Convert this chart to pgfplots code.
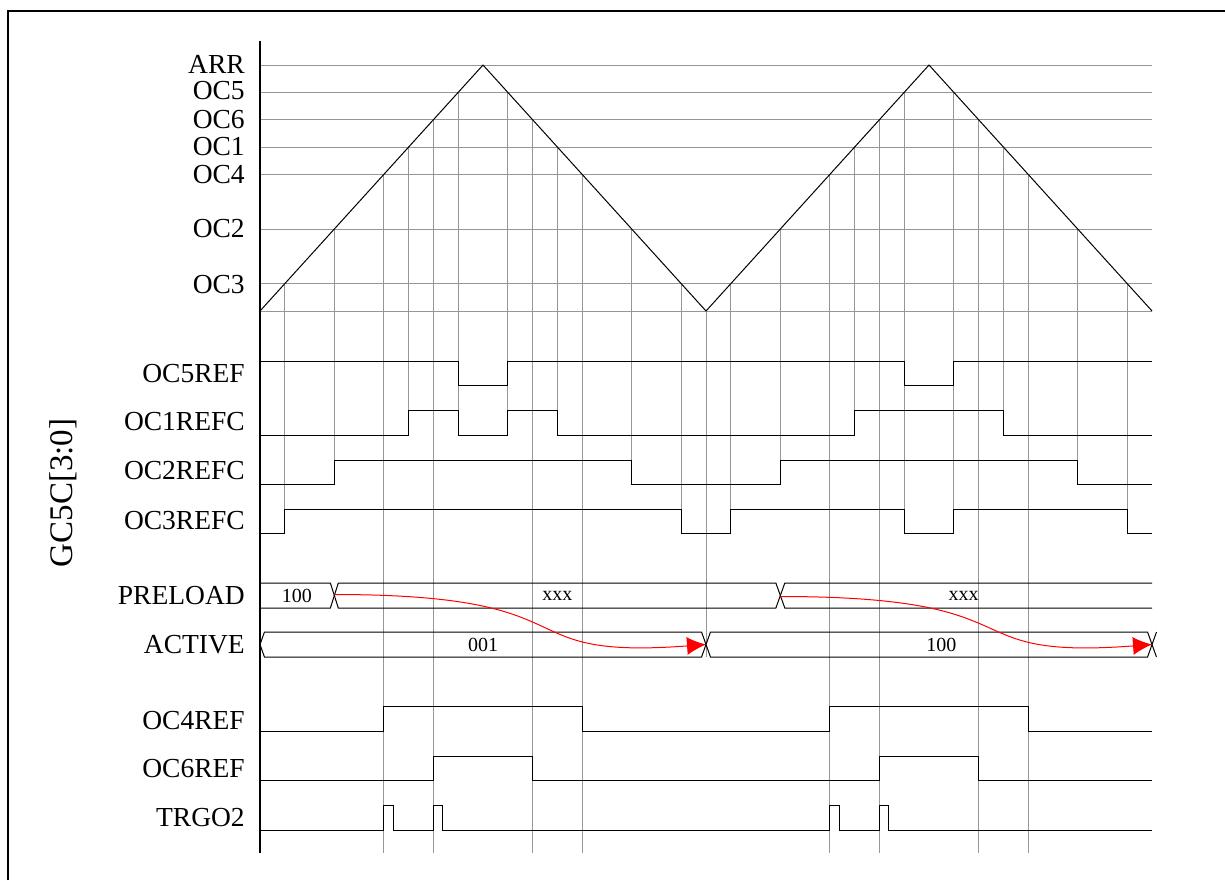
\documentclass[border=0pt]{standalone}
\usepackage{fontspec}
\setmainfont{Liberation Serif}
\usepackage{pgfplots}
\usepackage{pgfplotstable}
\pgfplotsset{compat=1.18}
\usetikzlibrary{arrows.meta}
\definecolor{gridc}{RGB}{150,150,150}
\tikzset{
  lab/.style={anchor=east, inner sep=0pt, font=\fontsize{13.75pt}{16pt}\selectfont},
  buslab/.style={inner sep=0pt, font=\fontsize{10pt}{12pt}\selectfont},
  sig/.style={black, line width=0.5pt, mark=none},
}
% vertical guide lines: time, top (counter crossing), bottom
\pgfplotstableread{
t y
1 283.7
1 533
nan nan
3 229
3 484
nan nan
5 174.3
5 853
nan nan
6 147
6 435
nan nan
7 119.7
7 853
nan nan
8 92.3
8 435
nan nan
10 92.3
10 435
nan nan
11 119.7
11 853
nan nan
12 147
12 435
nan nan
13 174.3
13 853
nan nan
15 229
15 484
nan nan
17 283.7
17 533
nan nan
18 311
18 657
nan nan
19 283.7
19 533
nan nan
21 229
21 484
nan nan
23 174.3
23 853
nan nan
24 147
24 435
nan nan
25 119.7
25 853
nan nan
26 92.3
26 533
nan nan
28 92.3
28 533
nan nan
29 119.7
29 853
nan nan
30 147
30 435
nan nan
31 174.3
31 853
nan nan
33 229
33 484
nan nan
35 283.7
35 533
}\vgrid
\pgfplotstableread{
t y
0 65
36 65
nan nan
0 92.3
36 92.3
nan nan
0 119.7
36 119.7
nan nan
0 147
36 147
nan nan
0 174.3
36 174.3
nan nan
0 229
36 229
nan nan
0 283.7
36 283.7
nan nan
0 311
36 311
}\hgrid
\begin{document}
\begin{tikzpicture}
\begin{axis}[
  width=612.5pt, height=440pt, scale only axis,
  xmin=-10.493, xmax=38.946, ymin=0, ymax=880, y dir=reverse,
  axis lines=none, clip=false,
  unbounded coords=jump,
]
% grid
\addplot[gridc, line width=0.5pt, mark=none] table[x=t,y=y] {\hgrid};
\addplot[gridc, line width=0.5pt, mark=none] table[x=t,y=y] {\vgrid};
% left axis line
\addplot[black, line width=0.6pt, mark=none] coordinates {(0,40.7)(0,853)};
% counter
\addplot[sig] coordinates {(0,311)(9,65)(18,311)(27,65)(36,311)};
% OC5REF
\addplot[sig] coordinates {(0,361)(8,361)(8,385)(10,385)(10,361)(26,361)(26,385)(28,385)(28,361)(36,361)};
% OC1REFC
\addplot[sig] coordinates {(0,435)(6,435)(6,410)(8,410)(8,435)(10,435)(10,410)(12,410)(12,435)(24,435)(24,410)(30,410)(30,435)(36,435)};
% OC2REFC
\addplot[sig] coordinates {(0,484)(3,484)(3,460)(15,460)(15,484)(21,484)(21,460)(33,460)(33,484)(36,484)};
% OC3REFC
\addplot[sig] coordinates {(0,533)(1,533)(1,509)(17,509)(17,533)(19,533)(19,509)(26,509)(26,533)(28,533)(28,509)(35,509)(35,533)(36,533)};
% PRELOAD bus
\addplot[sig] coordinates {(0,583)(2.84,583)(3.16,608)(20.82,608)(21.18,583)(36,583)};
\addplot[sig] coordinates {(0,608)(2.84,608)(3.16,583)(20.82,583)(21.18,608)(36,608)};
% ACTIVE bus
\addplot[sig] coordinates {(0,644.5)(0.18,632)(17.82,632)(18.18,657)(35.82,657)(36.18,632)};
\addplot[sig] coordinates {(0,644.5)(0.18,657)(17.82,657)(18.18,632)(35.82,632)(36.18,657)};
% OC4REF
\addplot[sig] coordinates {(0,731)(5,731)(5,706)(13,706)(13,731)(23,731)(23,706)(31,706)(31,731)(36,731)};
% OC6REF
\addplot[sig] coordinates {(0,780)(7,780)(7,756)(11,756)(11,780)(25,780)(25,756)(29,756)(29,780)(36,780)};
% TRGO2
\addplot[sig] coordinates {(0,830)(5,830)(5,805)(5.38,805)(5.38,830)(7,830)(7,805)(7.38,805)(7.38,830)(23,830)(23,805)(23.38,805)(23.38,830)(25,830)(25,805)(25.38,805)(25.38,830)(36,830)};
% red arrows
\draw[red, line width=0.5pt, -{Latex[length=9.5pt,width=9pt]}] (axis cs:3,594.5) .. controls (axis cs:13.72,594.5) and (axis cs:9.69,660) .. (axis cs:18,644.5);
\draw[red, line width=0.5pt, -{Latex[length=9.5pt,width=9pt]}] (axis cs:21,596.5) .. controls (axis cs:31.72,596.5) and (axis cs:27.69,660) .. (axis cs:36,644.5);
% bus texts
\node[buslab] at (axis cs:1.49,595.5) {100};
\node[buslab] at (axis cs:12,596) {xxx};
\node[buslab] at (axis cs:28.4,596) {xxx};
\node[buslab] at (axis cs:9,644.5) {001};
\node[buslab] at (axis cs:27.5,644.5) {100};
% level labels
\node[lab] at (axis cs:-0.6,64.7) {ARR};
\node[lab] at (axis cs:-0.6,90.8) {OC5};
\node[lab] at (axis cs:-0.6,119.2) {OC6};
\node[lab] at (axis cs:-0.6,146.7) {OC1};
\node[lab] at (axis cs:-0.6,175) {OC4};
\node[lab] at (axis cs:-0.6,228.5) {OC2};
\node[lab] at (axis cs:-0.6,284.7) {OC3};
% signal labels
\node[lab] at (axis cs:-0.6,373.5) {OC5REF};
\node[lab] at (axis cs:-0.6,422) {OC1REFC};
\node[lab] at (axis cs:-0.6,470.5) {OC2REFC};
\node[lab] at (axis cs:-0.6,520.5) {OC3REFC};
\node[lab] at (axis cs:-0.6,595.5) {PRELOAD};
\node[lab] at (axis cs:-0.6,644.5) {ACTIVE};
\node[lab] at (axis cs:-0.6,720.5) {OC4REF};
\node[lab] at (axis cs:-0.6,769) {OC6REF};
\node[lab] at (axis cs:-0.6,817.3) {TRGO2};
% rotated group label
\node[inner sep=0pt, rotate=90, font=\fontsize{16.5pt}{19pt}\selectfont] at (axis cs:-7.94,493) {GC5C[3:0]};
% frame
\draw[black, line width=1pt] (axis cs:-10.17,880) -- (axis cs:-10.17,11) -- (axis cs:38.946,11);
\end{axis}
\pgfresetboundingbox
\path[use as bounding box] (current axis.south west) rectangle (current axis.north east);
\end{tikzpicture}
\end{document}
